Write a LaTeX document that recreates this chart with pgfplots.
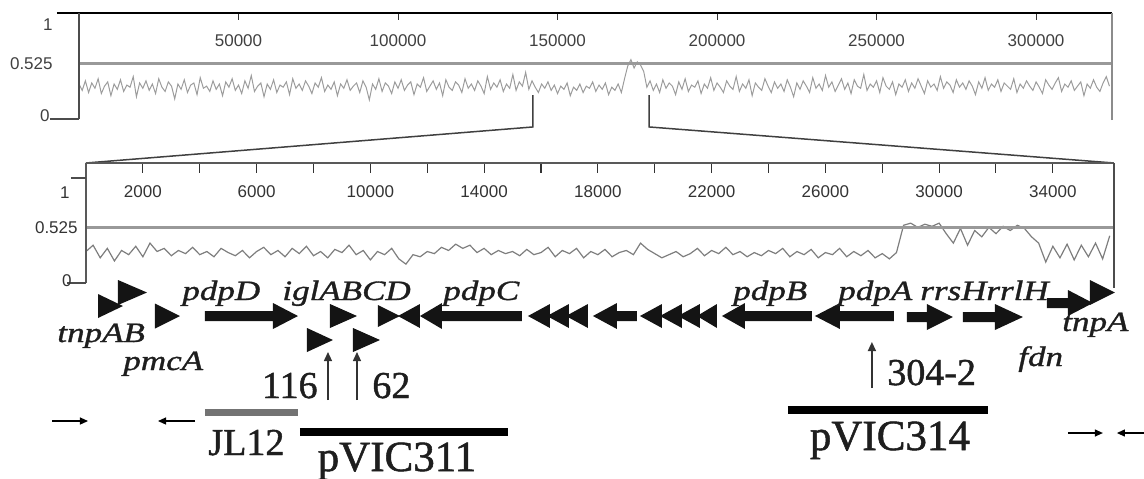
\documentclass[border=0pt]{standalone}
\usepackage{fontspec}
\setmainfont{Liberation Serif}
\newfontfamily\sansf{Liberation Sans}
\newfontfamily\genef{Liberation Serif}[FakeStretch=1.25,FakeBold=1.2]
\newfontfamily\labf{Liberation Serif}[FakeBold=1.2]
\usepackage{pgfplots}
\usepackage{pgfplotstable}
\pgfplotsset{compat=1.18}
\usetikzlibrary{arrows.meta}

\definecolor{gctop}{HTML}{9C9C9C}
\definecolor{gcbot}{HTML}{7E7E7E}
\definecolor{txt}{HTML}{1E1E1E}

\newcommand\ticklab{\sansf\fontsize{8.5}{9}\selectfont}
\newcommand\genelab{\genef\itshape\fontsize{14}{14}\selectfont}
\newcommand\numlab{\labf\fontsize{19}{19}\selectfont}
\newcommand\biglab{\labf\fontsize{21.5}{21.5}\selectfont}

% GC content, whole region (kb, fraction)
\pgfplotstableread[row sep=\\]{
x y\\
0 0.33\\ 1 0.27\\ 2 0.36\\ 3 0.25\\ 4 0.34\\ 5 0.29\\ 6 0.38\\ 7 0.24\\ 8 0.31\\ 9 0.35\\
10 0.22\\ 11 0.33\\ 12 0.28\\ 13 0.37\\ 14 0.26\\ 15 0.32\\ 16 0.30\\ 17 0.40\\ 18 0.21\\ 19 0.34\\
20 0.29\\ 21 0.36\\ 22 0.27\\ 23 0.33\\ 24 0.24\\ 25 0.38\\ 26 0.30\\ 27 0.26\\ 28 0.35\\ 29 0.31\\
30 0.19\\ 31 0.33\\ 32 0.28\\ 33 0.37\\ 34 0.25\\ 35 0.32\\ 36 0.34\\ 37 0.23\\ 38 0.39\\ 39 0.29\\
40 0.31\\ 41 0.26\\ 42 0.36\\ 43 0.28\\ 44 0.33\\ 45 0.22\\ 46 0.35\\ 47 0.30\\ 48 0.38\\ 49 0.27\\
50 0.32\\ 51 0.24\\ 52 0.36\\ 53 0.29\\ 54 0.41\\ 55 0.26\\ 56 0.31\\ 57 0.34\\ 58 0.21\\ 59 0.33\\
60 0.28\\ 61 0.37\\ 62 0.25\\ 63 0.32\\ 64 0.30\\ 65 0.35\\ 66 0.23\\ 67 0.38\\ 68 0.29\\ 69 0.33\\
70 0.27\\ 71 0.36\\ 72 0.31\\ 73 0.24\\ 74 0.34\\ 75 0.30\\ 76 0.39\\ 77 0.26\\ 78 0.32\\ 79 0.28\\
80 0.35\\ 81 0.22\\ 82 0.33\\ 83 0.29\\ 84 0.37\\ 85 0.27\\ 86 0.31\\ 87 0.34\\ 88 0.25\\ 89 0.36\\
90 0.30\\ 91 0.18\\ 92 0.33\\ 93 0.28\\ 94 0.38\\ 95 0.26\\ 96 0.34\\ 97 0.31\\ 98 0.24\\ 99 0.35\\
100 0.29\\ 101 0.37\\ 102 0.27\\ 103 0.32\\ 104 0.35\\ 105 0.23\\ 106 0.33\\ 107 0.30\\ 108 0.39\\ 109 0.26\\
110 0.31\\ 111 0.36\\ 112 0.28\\ 113 0.34\\ 114 0.22\\ 115 0.37\\ 116 0.30\\ 117 0.27\\ 118 0.35\\ 119 0.32\\
120 0.25\\ 121 0.38\\ 122 0.29\\ 123 0.33\\ 124 0.27\\ 125 0.36\\ 126 0.31\\ 127 0.24\\ 128 0.40\\ 129 0.28\\
130 0.34\\ 131 0.30\\ 132 0.37\\ 133 0.26\\ 134 0.33\\ 135 0.29\\ 136 0.42\\ 137 0.27\\ 138 0.35\\ 139 0.31\\
140 0.44\\ 141 0.28\\ 142 0.36\\ 143 0.30\\ 144 0.25\\ 145 0.33\\ 146 0.29\\ 147 0.35\\ 148 0.27\\ 149 0.32\\
150 0.24\\ 151 0.31\\ 152 0.28\\ 153 0.34\\ 154 0.22\\ 155 0.30\\ 156 0.27\\ 157 0.33\\ 158 0.25\\ 159 0.31\\
160 0.29\\ 161 0.35\\ 162 0.26\\ 163 0.32\\ 164 0.28\\ 165 0.34\\ 166 0.23\\ 167 0.30\\ 168 0.27\\ 169 0.33\\
170 0.25\\ 171 0.38\\ 172 0.50\\ 173 0.56\\ 174 0.48\\ 175 0.54\\ 176 0.51\\ 177 0.45\\ 178 0.30\\ 179 0.36\\
180 0.27\\ 181 0.33\\ 182 0.25\\ 183 0.37\\ 184 0.29\\ 185 0.34\\ 186 0.31\\ 187 0.23\\ 188 0.35\\ 189 0.28\\
190 0.38\\ 191 0.26\\ 192 0.32\\ 193 0.30\\ 194 0.36\\ 195 0.24\\ 196 0.33\\ 197 0.29\\ 198 0.39\\ 199 0.27\\
200 0.34\\ 201 0.30\\ 202 0.25\\ 203 0.36\\ 204 0.31\\ 205 0.28\\ 206 0.40\\ 207 0.26\\ 208 0.33\\ 209 0.29\\
210 0.37\\ 211 0.22\\ 212 0.34\\ 213 0.30\\ 214 0.27\\ 215 0.38\\ 216 0.31\\ 217 0.25\\ 218 0.35\\ 219 0.29\\
220 0.33\\ 221 0.26\\ 222 0.37\\ 223 0.30\\ 224 0.21\\ 225 0.34\\ 226 0.28\\ 227 0.36\\ 228 0.31\\ 229 0.25\\
230 0.39\\ 231 0.29\\ 232 0.33\\ 233 0.27\\ 234 0.41\\ 235 0.30\\ 236 0.35\\ 237 0.26\\ 238 0.32\\ 239 0.38\\
240 0.28\\ 241 0.34\\ 242 0.24\\ 243 0.37\\ 244 0.31\\ 245 0.29\\ 246 0.42\\ 247 0.27\\ 248 0.33\\ 249 0.30\\
250 0.36\\ 251 0.25\\ 252 0.39\\ 253 0.31\\ 254 0.28\\ 255 0.35\\ 256 0.23\\ 257 0.33\\ 258 0.30\\ 259 0.37\\
260 0.26\\ 261 0.34\\ 262 0.29\\ 263 0.38\\ 264 0.31\\ 265 0.24\\ 266 0.36\\ 267 0.30\\ 268 0.33\\ 269 0.27\\
270 0.40\\ 271 0.29\\ 272 0.35\\ 273 0.32\\ 274 0.25\\ 275 0.37\\ 276 0.30\\ 277 0.34\\ 278 0.28\\ 279 0.36\\
280 0.31\\ 281 0.23\\ 282 0.35\\ 283 0.29\\ 284 0.39\\ 285 0.27\\ 286 0.33\\ 287 0.30\\ 288 0.37\\ 289 0.26\\
290 0.34\\ 291 0.31\\ 292 0.28\\ 293 0.38\\ 294 0.25\\ 295 0.33\\ 296 0.29\\ 297 0.36\\ 298 0.31\\ 299 0.27\\
300 0.35\\ 301 0.30\\ 302 0.24\\ 303 0.37\\ 304 0.32\\ 305 0.28\\ 306 0.34\\ 307 0.39\\ 308 0.26\\ 309 0.33\\
310 0.30\\ 311 0.36\\ 312 0.27\\ 313 0.31\\ 314 0.35\\ 315 0.22\\ 316 0.33\\ 317 0.29\\ 318 0.37\\ 319 0.30\\
320 0.26\\ 321 0.34\\ 322 0.40\\ 323 0.31\\
}\gcwhole

% GC content, enlarged island (kb, fraction)
\pgfplotstableread[row sep=\\]{
x y\\
0.00 0.30\\ 0.25 0.36\\ 0.50 0.24\\ 0.75 0.33\\ 1.00 0.21\\ 1.25 0.31\\ 1.50 0.27\\ 1.75 0.35\\
2.00 0.25\\ 2.25 0.38\\ 2.50 0.30\\ 2.75 0.33\\ 3.00 0.26\\ 3.25 0.31\\ 3.50 0.28\\ 3.75 0.34\\
4.00 0.27\\ 4.25 0.30\\ 4.50 0.25\\ 4.75 0.33\\ 5.00 0.29\\ 5.25 0.26\\ 5.50 0.31\\ 5.75 0.24\\
6.00 0.30\\ 6.25 0.34\\ 6.50 0.27\\ 6.75 0.31\\ 7.00 0.25\\ 7.25 0.33\\ 7.50 0.28\\ 7.75 0.35\\
8.00 0.26\\ 8.25 0.30\\ 8.50 0.24\\ 8.75 0.32\\ 9.00 0.29\\ 9.25 0.36\\ 9.50 0.27\\ 9.75 0.31\\
10.00 0.22\\ 10.25 0.30\\ 10.50 0.27\\ 10.75 0.33\\ 11.00 0.23\\ 11.25 0.18\\ 11.50 0.27\\ 11.75 0.25\\
12.00 0.30\\ 12.25 0.28\\ 12.50 0.34\\ 12.75 0.31\\ 13.00 0.37\\ 13.25 0.33\\ 13.50 0.36\\ 13.75 0.29\\
14.00 0.33\\ 14.25 0.27\\ 14.50 0.31\\ 14.75 0.28\\ 15.00 0.30\\ 15.25 0.26\\ 15.50 0.32\\ 15.75 0.27\\
16.00 0.29\\ 16.25 0.34\\ 16.50 0.25\\ 16.75 0.31\\ 17.00 0.28\\ 17.25 0.33\\ 17.50 0.24\\ 17.75 0.30\\
18.00 0.27\\ 18.25 0.32\\ 18.50 0.25\\ 18.75 0.29\\ 19.00 0.31\\ 19.25 0.27\\ 19.50 0.38\\ 19.75 0.32\\
20.00 0.28\\ 20.25 0.24\\ 20.50 0.27\\ 20.75 0.30\\ 21.00 0.25\\ 21.25 0.28\\ 21.50 0.33\\ 21.75 0.26\\
22.00 0.31\\ 22.25 0.28\\ 22.50 0.34\\ 22.75 0.27\\ 23.00 0.30\\ 23.25 0.25\\ 23.50 0.29\\ 23.75 0.26\\
24.00 0.31\\ 24.25 0.28\\ 24.50 0.33\\ 24.75 0.25\\ 25.00 0.30\\ 25.25 0.27\\ 25.50 0.32\\ 25.75 0.24\\
26.00 0.29\\ 26.25 0.27\\ 26.50 0.33\\ 26.75 0.25\\ 27.00 0.30\\ 27.25 0.26\\ 27.50 0.31\\ 27.75 0.24\\
28.00 0.28\\ 28.25 0.23\\ 28.50 0.29\\ 28.75 0.55\\ 29.00 0.57\\ 29.25 0.53\\ 29.50 0.56\\ 29.75 0.54\\
30.00 0.57\\ 30.25 0.47\\ 30.50 0.38\\ 30.75 0.52\\ 31.00 0.36\\ 31.25 0.50\\ 31.50 0.44\\ 31.75 0.53\\
32.00 0.47\\ 32.25 0.54\\ 32.50 0.50\\ 32.75 0.55\\ 33.00 0.52\\ 33.25 0.44\\ 33.50 0.38\\ 33.75 0.20\\
34.00 0.35\\ 34.25 0.24\\ 34.50 0.37\\ 34.75 0.22\\ 35.00 0.36\\ 35.25 0.25\\ 35.50 0.38\\ 35.75 0.23\\
36.00 0.45\\
}\gcisland

\pgfplotsset{
  gene/.style={fill=black!92, draw=none},
  ins/.style={black!80, line width=0.7pt, -{Triangle[length=4.5pt,width=4pt]}},
  primer/.style={black, line width=0.6pt, -{Triangle[length=4pt,width=3.5pt]}},
}

\begin{document}
\begin{tikzpicture}
\path[use as bounding box] (0,0) rectangle (572pt,-239pt);

% whole region
\begin{axis}[
  at={(39.5pt,-59.5pt)}, anchor=south west,
  scale only axis, width=516.5pt, height=53pt,
  xmin=0, xmax=323.8, ymin=0, ymax=1,
  axis line style={draw=none}, clip=false,
  xtick={50,100,...,300},
  xticklabels={50000,100000,150000,200000,250000,300000},
  xtick pos=right, xticklabel pos=right,
  tick align=inside, major tick length=3.5pt,
  xtick style={black!80, line width=0.5pt},
  ytick=\empty,
  xticklabel style={anchor=center, yshift=-14pt, font=\ticklab, text=black!75},
]
\addplot[gctop, line width=0.5pt] table {\gcwhole};
\addplot[black!40, line width=1.4pt] coordinates {(0,0.525) (323.8,0.525)};
\addplot[black, line width=1.1pt] coordinates {(-6.9,1) (323.8,1)};
\addplot[black!70, line width=1.1pt] coordinates {(0,0) (0,1)};
\addplot[black!70, line width=0.8pt] coordinates {(-9.1,0) (0,0)};
\addplot[black!45, line width=1pt] coordinates {(323.8,-0.01) (323.8,1)};
% zoom lines
\addplot[black!75, line width=0.75pt] coordinates {(142.3,0.226) (142.3,-0.075) (2.19,-0.415)};
\addplot[black!75, line width=0.75pt] coordinates {(178.7,0.226) (178.7,-0.075) (324.4,-0.415)};
\node[anchor=east, inner sep=0, font=\ticklab, text=black!75, xshift=-13pt, yshift=-6pt] at (axis cs:0,1) {1};
\node[anchor=east, inner sep=0, font=\ticklab, text=black!75, xshift=-13pt] at (axis cs:0,0.525) {0.525};
\node[anchor=east, inner sep=0, font=\ticklab, text=black!75, xshift=-14.5pt, yshift=1.5pt] at (axis cs:0,0) {0};
\end{axis}

% enlarged island
\begin{axis}[
  at={(43pt,-141.5pt)}, anchor=south west,
  scale only axis, width=514pt, height=60pt,
  xmin=0, xmax=36.15, ymin=0, ymax=1.143,
  axis line style={draw=none}, clip=false,
  xtick={2,4,...,34},
  xticklabels={2000,,6000,,10000,,14000,,18000,,22000,,26000,,30000,,34000},
  xtick pos=right, xticklabel pos=right,
  tick align=inside, major tick length=5pt,
  xtick style={black!80, line width=0.5pt},
  ytick=\empty,
  xticklabel style={anchor=center, yshift=-14.5pt, font=\ticklab, text=black!80},
]
\addplot[gcbot, line width=0.6pt] table {\gcisland};
\addplot[black!40, line width=1.4pt] coordinates {(0,0.525) (36.15,0.525)};
\addplot[black!65, line width=1.4pt] coordinates {(0,1.143) (36.15,1.143)};
\addplot[black!65, line width=1.2pt] coordinates {(0,0) (0,1.143)};
\addplot[black!70, line width=1.2pt] coordinates {(36.15,-0.04) (36.15,1.143)};
\addplot[black!70, line width=0.8pt] coordinates {(-0.53,1) (0,1)};
\addplot[black!70, line width=0.8pt] coordinates {(-0.67,0) (0,0)};
\node[anchor=east, inner sep=0, font=\ticklab, text=black!80, xshift=-8pt, yshift=-7.5pt] at (axis cs:0,1) {1};
\node[anchor=east, inner sep=0, font=\ticklab, text=black!80, xshift=-4pt] at (axis cs:0,0.525) {0.525};
\node[anchor=east, inner sep=0, font=\ticklab, text=black!80, xshift=-7pt, yshift=1pt] at (axis cs:0,0) {0};
\end{axis}

% gene map (x in kb, y in rows)
\begin{axis}[
  at={(43pt,-239pt)}, anchor=south west,
  scale only axis, width=514pt, height=97.5pt,
  xmin=0, xmax=36.15, ymin=-478, ymax=-283,
  hide axis, clip=false,
]
% genes
\addplot[gene] coordinates {(0.422,-294) (1.301,-306) (0.422,-318)};
\addplot[gene] coordinates {(1.125,-280) (2.145,-292.5) (1.125,-305)};
\addplot[gene] coordinates {(2.426,-303.5) (3.305,-316) (2.426,-328.5)};
\addplot[gene] coordinates {(4.184,-311) (6.575,-311) (6.575,-303) (7.454,-316) (6.575,-329) (6.575,-321) (4.184,-321)};
\addplot[gene] coordinates {(7.771,-328) (8.685,-340) (7.771,-352)};
\addplot[gene] coordinates {(8.579,-304) (9.529,-316) (8.579,-328)};
\addplot[gene] coordinates {(9.388,-328) (10.338,-340) (9.388,-352)};
\addplot[gene] coordinates {(10.267,-305) (11.041,-316) (10.267,-327)};
\addplot[gene] coordinates {(10.970,-316) (11.744,-304) (11.744,-328)};
\addplot[gene] coordinates {(11.744,-316) (12.518,-303) (12.518,-311) (15.330,-311) (15.330,-321) (12.518,-321) (12.518,-329)};
\addplot[gene] coordinates {(15.541,-316) (16.315,-304) (16.315,-328)};
\addplot[gene] coordinates {(16.209,-316) (16.983,-304) (16.983,-328)};
\addplot[gene] coordinates {(16.878,-316) (17.651,-304) (17.651,-328)};
\addplot[gene] coordinates {(17.827,-316) (18.671,-303) (18.671,-311) (19.374,-311) (19.374,-321) (18.671,-321) (18.671,-329)};
\addplot[gene] coordinates {(19.480,-316) (20.253,-304) (20.253,-328)};
\addplot[gene] coordinates {(20.183,-316) (20.956,-304) (20.956,-328)};
\addplot[gene] coordinates {(20.816,-316) (21.589,-304) (21.589,-328)};
\addplot[gene] coordinates {(21.484,-316) (22.187,-304) (22.187,-328)};
\addplot[gene] coordinates {(22.363,-316) (23.172,-303) (23.172,-311) (25.527,-311) (25.527,-321) (23.172,-321) (23.172,-329)};
\addplot[gene] coordinates {(25.633,-316) (26.512,-303) (26.512,-311) (28.411,-311) (28.411,-321) (26.512,-321) (26.512,-329)};
\addplot[gene] coordinates {(28.868,-312) (29.571,-312) (29.571,-304) (30.485,-317) (29.571,-330) (29.571,-322) (28.868,-322)};
\addplot[gene] coordinates {(30.837,-312) (31.962,-312) (31.962,-304) (32.947,-317) (31.962,-330) (31.962,-322) (30.837,-322)};
\addplot[gene] coordinates {(33.790,-298) (34.529,-298) (34.529,-290) (35.408,-303) (34.529,-316) (34.529,-308) (33.790,-308)};
\addplot[gene] coordinates {(35.302,-280) (36.181,-292.5) (35.302,-305)};
% right frame line of the island plot continues
\addplot[black!70, line width=1.2pt] coordinates {(36.15,-283) (36.15,-288)};
% insertion sites
\addplot[ins] coordinates {(8.509,-400) (8.509,-352)};
\addplot[ins] coordinates {(9.529,-400) (9.529,-352)};
\addplot[ins] coordinates {(27.637,-388) (27.637,-342)};
% primers
\addplot[primer] coordinates {(-1.195,-421) (0.070,-421)};
\addplot[primer] coordinates {(3.833,-421) (2.532,-421)};
\addplot[primer] coordinates {(34.529,-433) (35.759,-433)};
\addplot[primer] coordinates {(37.20,-433) (36.252,-433)};
% clones
\addplot[black!55, line width=3.5pt] coordinates {(4.184,-412) (7.454,-412)};
\addplot[black, line width=4pt] coordinates {(7.525,-432) (14.838,-432)};
\addplot[black, line width=4pt] coordinates {(24.684,-410) (31.716,-410)};
% labels
\begin{scope}[every node/.style={inner sep=0, text=txt}]
\node[anchor=base west, font=\genelab] at (axis cs:-1.020,-342) {tnpAB};
\node[anchor=base west, font=\genelab] at (axis cs:1.301,-370) {pmcA};
\node[anchor=base west, font=\genelab] at (axis cs:3.376,-300) {pdpD};
\node[anchor=base west, font=\genelab] at (axis cs:6.892,-300) {iglABCD};
\node[anchor=base west, font=\genelab] at (axis cs:12.553,-300) {pdpC};
\node[anchor=base west, font=\genelab] at (axis cs:22.750,-300) {pdpB};
\node[anchor=base west, font=\genelab] at (axis cs:26.442,-300) {pdpA};
\node[anchor=base west, font=\genelab] at (axis cs:29.325,-300) {rrsHrrlH};
\node[anchor=base west, font=\genelab] at (axis cs:34.318,-331) {tnpA};
\node[anchor=base west, font=\genelab] at (axis cs:32.771,-366) {fdn};
\node[anchor=base east, font=\numlab] at (axis cs:8.158,-398) {116};
\node[anchor=base west, font=\numlab] at (axis cs:10.056,-398) {62};
\node[anchor=base west, font=\numlab] at (axis cs:28.165,-385) {304-2};
\node[anchor=base west, font=\numlab] at (axis cs:4.290,-455) {JL12};
\node[anchor=base, font=\biglab] at (axis cs:10.935,-471) {pVIC311};
\node[anchor=base, font=\biglab] at (axis cs:28.270,-450) {pVIC314};
\end{scope}
\end{axis}
\end{tikzpicture}
\end{document}
